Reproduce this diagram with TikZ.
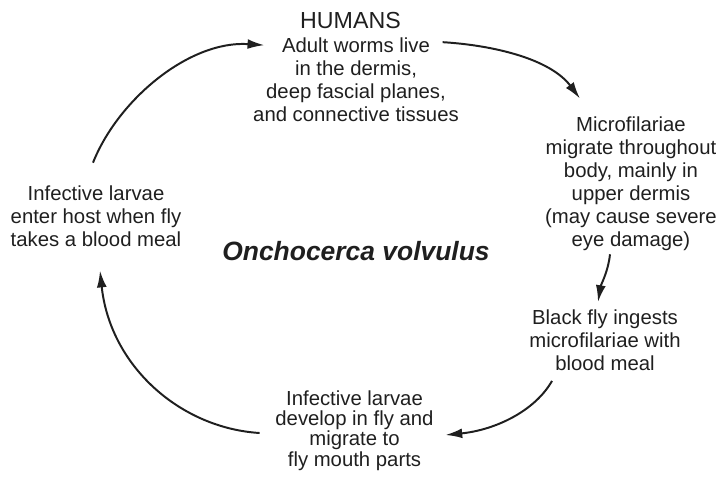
\documentclass[tikz,border=0pt]{standalone}
\usepackage{fontspec}
\setmainfont{Liberation Sans}
\usetikzlibrary{arrows.meta}

\begin{document}
\begin{tikzpicture}[x=0.025cm,y=-0.025cm,
  every node/.style={font=\fontsize{14.45}{16.4}\selectfont,align=center,inner sep=0pt,text=black!88},
  cycarrow/.style={line width=1.4pt,draw=black!88,-{Latex[length=12pt,width=7pt]}}]
\useasboundingbox (0,0) rectangle (719,476);
\node (humans) at (350.5,20.5) {\fontsize{16.5}{18}\selectfont HUMANS};
\node (adult) at (356,80) {Adult worms live\\in the dermis,\\deep fascial planes,\\and connective tissues};
\node (micro) at (631,183.5) {Microfilariae\\migrate throughout\\body, mainly in\\upper dermis\\(may cause severe\\eye damage)};
\node (black) at (605,340.4) {Black fly ingests\\microfilariae with\\blood meal};
\node[font=\fontsize{14.45}{14.5}\selectfont] (develop) at (354.5,430.5) {Infective larvae\\develop in fly and\\migrate to\\fly mouth parts};
\node (enter) at (96,216) {Infective larvae\\enter host when fly\\takes a blood meal};
\node (worm) at (356,251.5) {\fontsize{18.8}{20}\selectfont\bfseries\itshape Onchocerca volvulus};
\draw[cycarrow] ([shift={(-3,-22.5)}]enter.north) .. controls +(25,-63) and +(-75,-5) .. ([shift={(11.5,7.5)}]adult.north west);
\draw[cycarrow] ([shift={(-16.5,4.5)}]adult.north east) .. controls +(50,3) and +(-30,-40) .. ([shift={(-51,-17.5)}]micro.north);
\draw[cycarrow] ([shift={(-21,3.4)}]micro.south) .. controls +(-2,18) and +(3,-18) .. ([shift={(-7,-7.5)}]black.north);
\draw[cycarrow] ([shift={(-53,9.7)}]black.south) .. controls +(-17,30) and +(50,-5) .. ([shift={(11.5,4.5)}]develop.east);
\draw[cycarrow] ([shift={(-15.5,2.5)}]develop.west) .. controls +(-80,-5) and +(10,95) .. ([shift={(4,23.7)}]enter.south);
\end{tikzpicture}
\end{document}
